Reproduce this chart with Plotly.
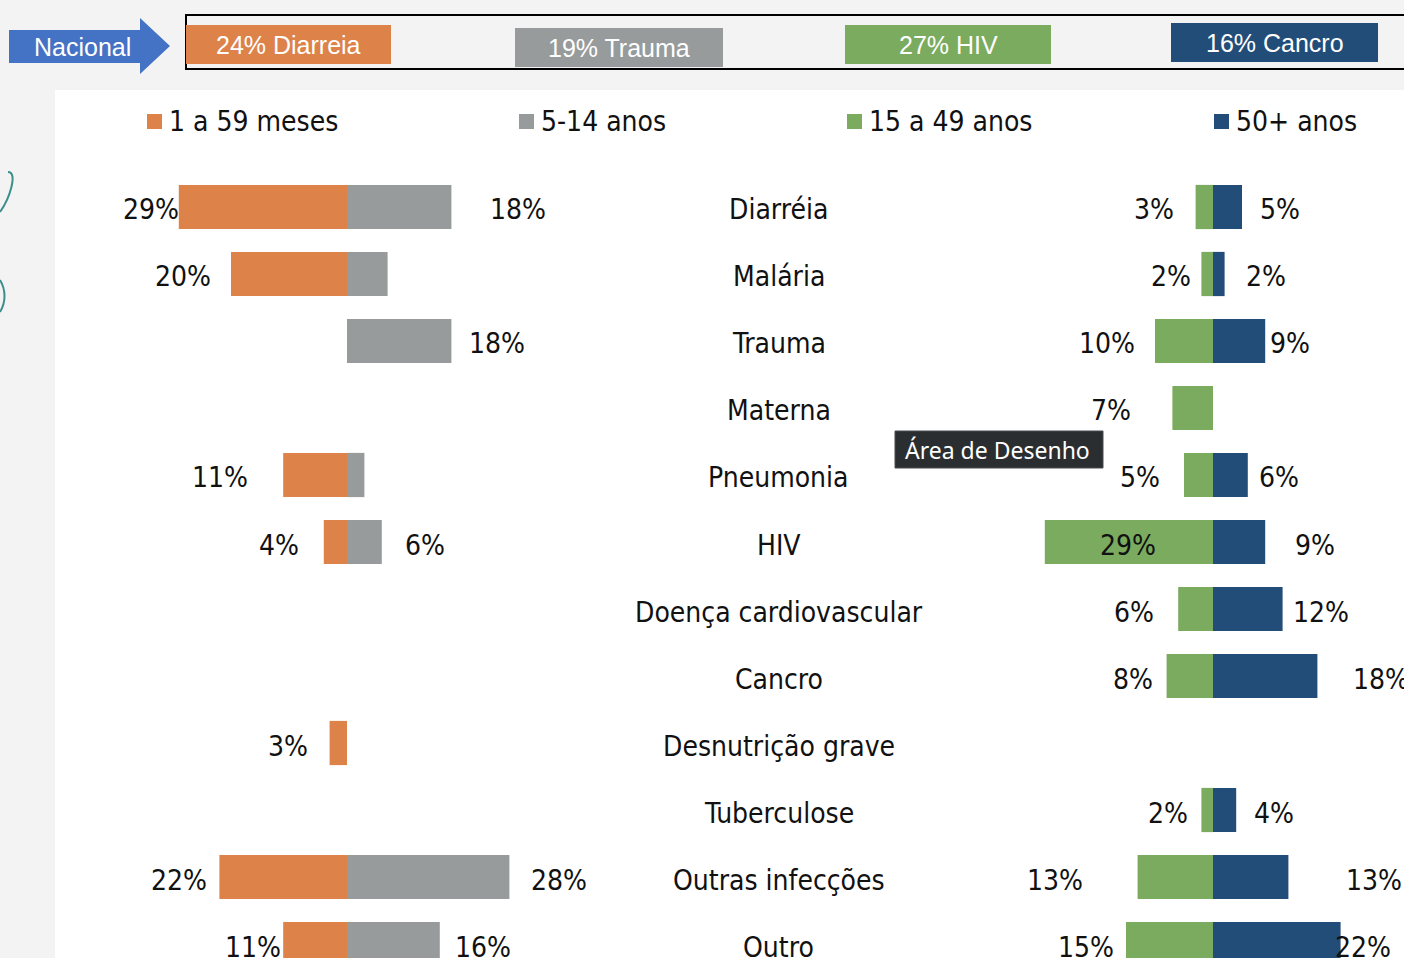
import plotly.graph_objects as go

# categories (top to bottom)
causas = ["Diarréia", "Malária", "Trauma", "Materna", "Pneumonia", "HIV",
          "Doença cardiovascular", "Cancro", "Desnutrição grave", "Tuberculose",
          "Outras infecções", "Outro"]

# % of deaths by age group
meses_1_59 = [29, 20, 0, 0, 11, 4, 0, 0, 3, 0, 22, 11]
anos_5_14 = [18, 7, 18, 0, 3, 6, 0, 0, 0, 0, 28, 16]
anos_15_49 = [3, 2, 10, 7, 5, 29, 6, 8, 0, 2, 13, 15]
anos_50 = [5, 2, 9, 0, 6, 9, 12, 18, 0, 4, 13, 22]

# data labels shown on the slide (blank where the slide shows none)
lbl_1_59 = ["29%", "20%", "", "", "11%", "4%", "", "", "3%", "", "22%", "11%"]
lbl_5_14 = ["18%", "", "18%", "", "", "6%", "", "", "", "", "28%", "16%"]
lbl_15_49 = ["3%", "2%", "10%", "7%", "5%", "29%", "6%", "8%", "", "2%", "13%", "15%"]
lbl_50 = ["5%", "2%", "9%", "", "6%", "9%", "12%", "18%", "", "4%", "13%", "22%"]

grupos = ["1 a 59 meses", "5-14 anos", "15 a 49 anos", "50+ anos"]
nacional = ["24% Diarreia", "19% Trauma", "27% HIV", "16% Cancro"]

# hand-placed label gaps on the slide (px between bar end and label)
gap_1_59 = [-2, 18, 0, 0, 33, 23, 0, 0, 20, 0, 10, 0]
gap_5_14 = [37, 0, 16, 0, 0, 21, 0, 0, 0, 0, 20, 13]
gap_15_49 = [20, 8, 18, 39, 22, -113, 22, 12, 0, 11, 53, 10]
gap_50 = [16, 19, 3, 0, 9, 28, 8, 34, 0, 16, 56, -8]

LARANJA = "#dd8248"
CINZA = "#979b9b"
VERDE = "#7aab5f"
AZUL = "#234d79"
cores = [LARANJA, CINZA, VERDE, AZUL]

W, H = 1404, 958
SCALE = 5.8       # px per percentage point
ZERO_L = 347      # px of the left chart's zero line
ZERO_R = 1213     # px of the right chart's zero line
FONT = "DejaVu Sans Condensed"


def px(x):
    return x / W


def py(y):
    return 1 - y / H


fig = go.Figure()
fig.add_trace(go.Bar(y=causas, x=[-v for v in meses_1_59], orientation="h",
                     marker=dict(color=LARANJA, line=dict(width=0)), xaxis="x", yaxis="y"))
fig.add_trace(go.Bar(y=causas, x=anos_5_14, orientation="h",
                     marker=dict(color=CINZA, line=dict(width=0)), xaxis="x", yaxis="y"))
fig.add_trace(go.Bar(y=causas, x=[-v for v in anos_15_49], orientation="h",
                     marker=dict(color=VERDE, line=dict(width=0)), xaxis="x2", yaxis="y"))
fig.add_trace(go.Bar(y=causas, x=anos_50, orientation="h",
                     marker=dict(color=AZUL, line=dict(width=0)), xaxis="x2", yaxis="y"))

ann = []
lab_font = dict(family=FONT, size=28, color="#111111")
YS = -3
for i, c in enumerate(causas):
    if lbl_1_59[i]:
        ann.append(dict(x=-meses_1_59[i], y=c, xref="x", yref="y", text=lbl_1_59[i],
                        xshift=-gap_1_59[i], yshift=YS,
                        xanchor="right", yanchor="middle", showarrow=False, font=lab_font))
    if lbl_5_14[i]:
        ann.append(dict(x=anos_5_14[i], y=c, xref="x", yref="y", text=lbl_5_14[i],
                        xshift=gap_5_14[i], yshift=YS,
                        xanchor="left", yanchor="middle", showarrow=False, font=lab_font))
    if lbl_15_49[i]:
        ann.append(dict(x=-anos_15_49[i], y=c, xref="x2", yref="y", text=lbl_15_49[i],
                        xshift=-gap_15_49[i], yshift=YS,
                        xanchor="right", yanchor="middle", showarrow=False, font=lab_font))
    if lbl_50[i]:
        ann.append(dict(x=anos_50[i], y=c, xref="x2", yref="y", text=lbl_50[i],
                        xshift=gap_50[i], yshift=YS,
                        xanchor="left", yanchor="middle", showarrow=False, font=lab_font))
    # category name in the middle
    ann.append(dict(x=px(779), y=c, xref="paper", yref="y", text=c, yshift=YS,
                    xanchor="center", yanchor="middle", showarrow=False, font=lab_font))

shapes = []
# background: streaky grey margins, white chart area
shapes.append(dict(type="rect", xref="paper", yref="paper", x0=px(55), x1=1, y0=0, y1=py(90),
                   fillcolor="white", line=dict(width=0), layer="below"))
# teal doodle at left edge
shapes.append(dict(type="path", xref="paper", yref="paper",
                   path=f"M {px(0)},{py(212)} C {px(10)},{py(198)} {px(18)},{py(172)} {px(8)},{py(172)}",
                   line=dict(color="#3b8f8a", width=2)))
shapes.append(dict(type="path", xref="paper", yref="paper",
                   path=f"M {px(0)},{py(280)} C {px(6)},{py(290)} {px(6)},{py(302)} {px(0)},{py(312)}",
                   line=dict(color="#3b8f8a", width=2)))

# legend
leg_x = [147, 519, 847, 1214]
for g, cor, x in zip(grupos, cores, leg_x):
    shapes.append(dict(type="rect", xref="paper", yref="paper", x0=px(x), x1=px(x + 15),
                       y0=py(129), y1=py(114), fillcolor=cor, line=dict(width=0)))
    ann.append(dict(x=px(x + 20), y=py(122), xref="paper", yref="paper", text=g,
                    xanchor="left", yanchor="middle", showarrow=False, font=lab_font))

# banner: "Nacional" arrow + black frame + four boxes
banner_font = dict(family="Liberation Sans", size=25, color="white")
shapes.append(dict(type="path", xref="paper", yref="paper",
                   path=(f"M {px(9)},{py(30)} L {px(140)},{py(30)} L {px(140)},{py(18)} "
                         f"L {px(170)},{py(46)} L {px(140)},{py(74)} L {px(140)},{py(63)} "
                         f"L {px(9)},{py(63)} Z"),
                   fillcolor="#4472c4", line=dict(width=0)))
ann.append(dict(x=px(82), y=py(47), xref="paper", yref="paper", text="Nacional",
                xanchor="center", yanchor="middle", showarrow=False, font=banner_font))
shapes.append(dict(type="rect", xref="paper", yref="paper", x0=px(186), x1=px(1410),
                   y0=py(69), y1=py(15), line=dict(color="black", width=2)))
box_x = [(186, 391, 25), (515, 723, 28), (845, 1051, 25), (1171, 1378, 23)]
for t, cor, (x0, x1, y0) in zip(nacional, cores, box_x):
    shapes.append(dict(type="rect", xref="paper", yref="paper", x0=px(x0), x1=px(x1),
                       y0=py(y0 + 39), y1=py(y0), fillcolor=cor, line=dict(width=0)))
    ann.append(dict(x=px((x0 + x1) / 2), y=py(y0 + 20), xref="paper", yref="paper", text=t,
                    xanchor="center", yanchor="middle", showarrow=False, font=banner_font))

# hover tooltip captured in the screenshot
shapes.append(dict(type="rect", xref="paper", yref="paper", x0=px(895), x1=px(1103),
                   y0=py(468), y1=py(431), fillcolor="#2a2e31", line=dict(color="#4a4d50", width=1)))
ann.append(dict(x=px(998), y=py(450), xref="paper", yref="paper", text="Área de Desenho",
                xanchor="center", yanchor="middle", showarrow=False,
                font=dict(family="Noto Sans", size=23, color="white")))

fig.update_layout(
    width=W, height=H,
    margin=dict(l=0, r=0, t=0, b=0),
    paper_bgcolor="#f3f3f3",
    plot_bgcolor="rgba(0,0,0,0)",
    barmode="relative",
    bargap=0.34,
    showlegend=False,
    xaxis=dict(domain=[0, 1], range=[-ZERO_L / SCALE, (W - ZERO_L) / SCALE], visible=False),
    xaxis2=dict(domain=[0, 1], overlaying="x", range=[-ZERO_R / SCALE, (W - ZERO_R) / SCALE],
                visible=False),
    yaxis=dict(domain=[0, py(140)], type="category", range=[(H - 207) / 67, (140 - 207) / 67],
               visible=False),
    shapes=shapes,
    annotations=ann,
)

fig.write_html("out.html", config={"displayModeBar": False},
               post_script="document.body.style.margin='0';")
